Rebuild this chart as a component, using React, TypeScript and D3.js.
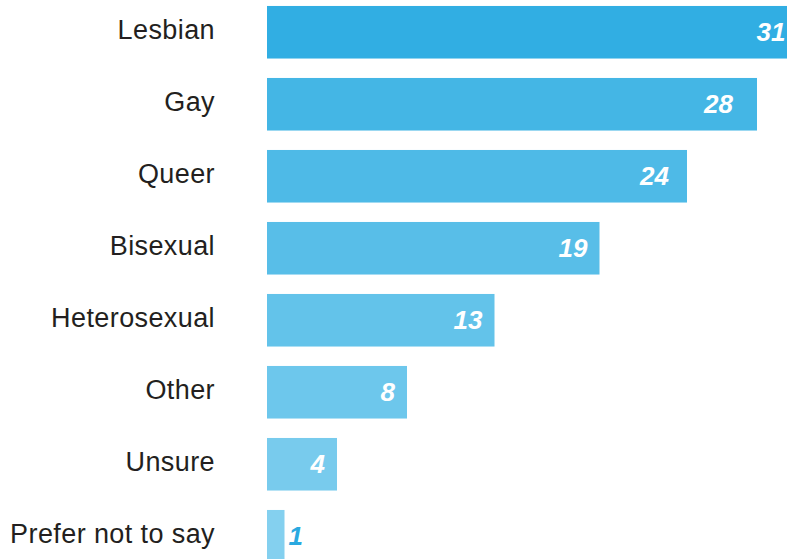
import React from "react";
import * as d3 from "d3";

const categories = ["Lesbian", "Gay", "Queer", "Bisexual", "Heterosexual", "Other", "Unsure", "Prefer not to say"];
const values = [31, 28, 24, 19, 13, 8, 4, 1];
const barColors = ["#31aee3", "#44b6e5", "#4ebae7", "#58bee8", "#63c3ea", "#6dc7ec", "#78cbed", "#84d0ef"];

const W = 787;
const H = 559;

export default function App() {
  const x = d3.scaleLinear().domain([0, 31]).range([267, 267 + 31 * 17.5]);
  const y = d3
    .scaleBand<string>()
    .domain(categories)
    .range([-3.75, -3.75 + 72 * categories.length])
    .paddingInner(0.27)
    .paddingOuter(0.135);
  const bw = y.bandwidth();
  const font = "'Liberation Sans', Arial, sans-serif";
  const gap = (v: number) => (v >= 28 ? 24 : v >= 24 ? 18 : 12);
  return (
    <svg
      width={W}
      height={H}
      style={{ position: "absolute", left: 0, top: 0, background: "#fff" }}
    >
      {categories.map((c, i) => {
        const y0 = y(c)!;
        const cy = y0 + bw / 2;
        const v = values[i];
        const x1 = x(v);
        const inside = v >= 3;
        return (
          <g key={c}>
            <rect x={x(0)} y={y0} width={x1 - x(0)} height={bw} fill={barColors[i]} />
            <text
              x={215}
              y={cy + 7}
              textAnchor="end"
              fontFamily={font}
              fontSize={27}
              letterSpacing={0.4}
              fill="#231f20"
            >
              {c}
            </text>
            <text
              x={inside ? x1 - gap(v) : x1 + 4}
              y={cy + 9}
              textAnchor={inside ? "end" : "start"}
              fontFamily={font}
              fontSize={26}
              fontWeight="bold"
              fontStyle="italic"
              fill={inside ? "#ffffff" : "#2aa9e0"}
            >
              {v}
            </text>
          </g>
        );
      })}
    </svg>
  );
}
